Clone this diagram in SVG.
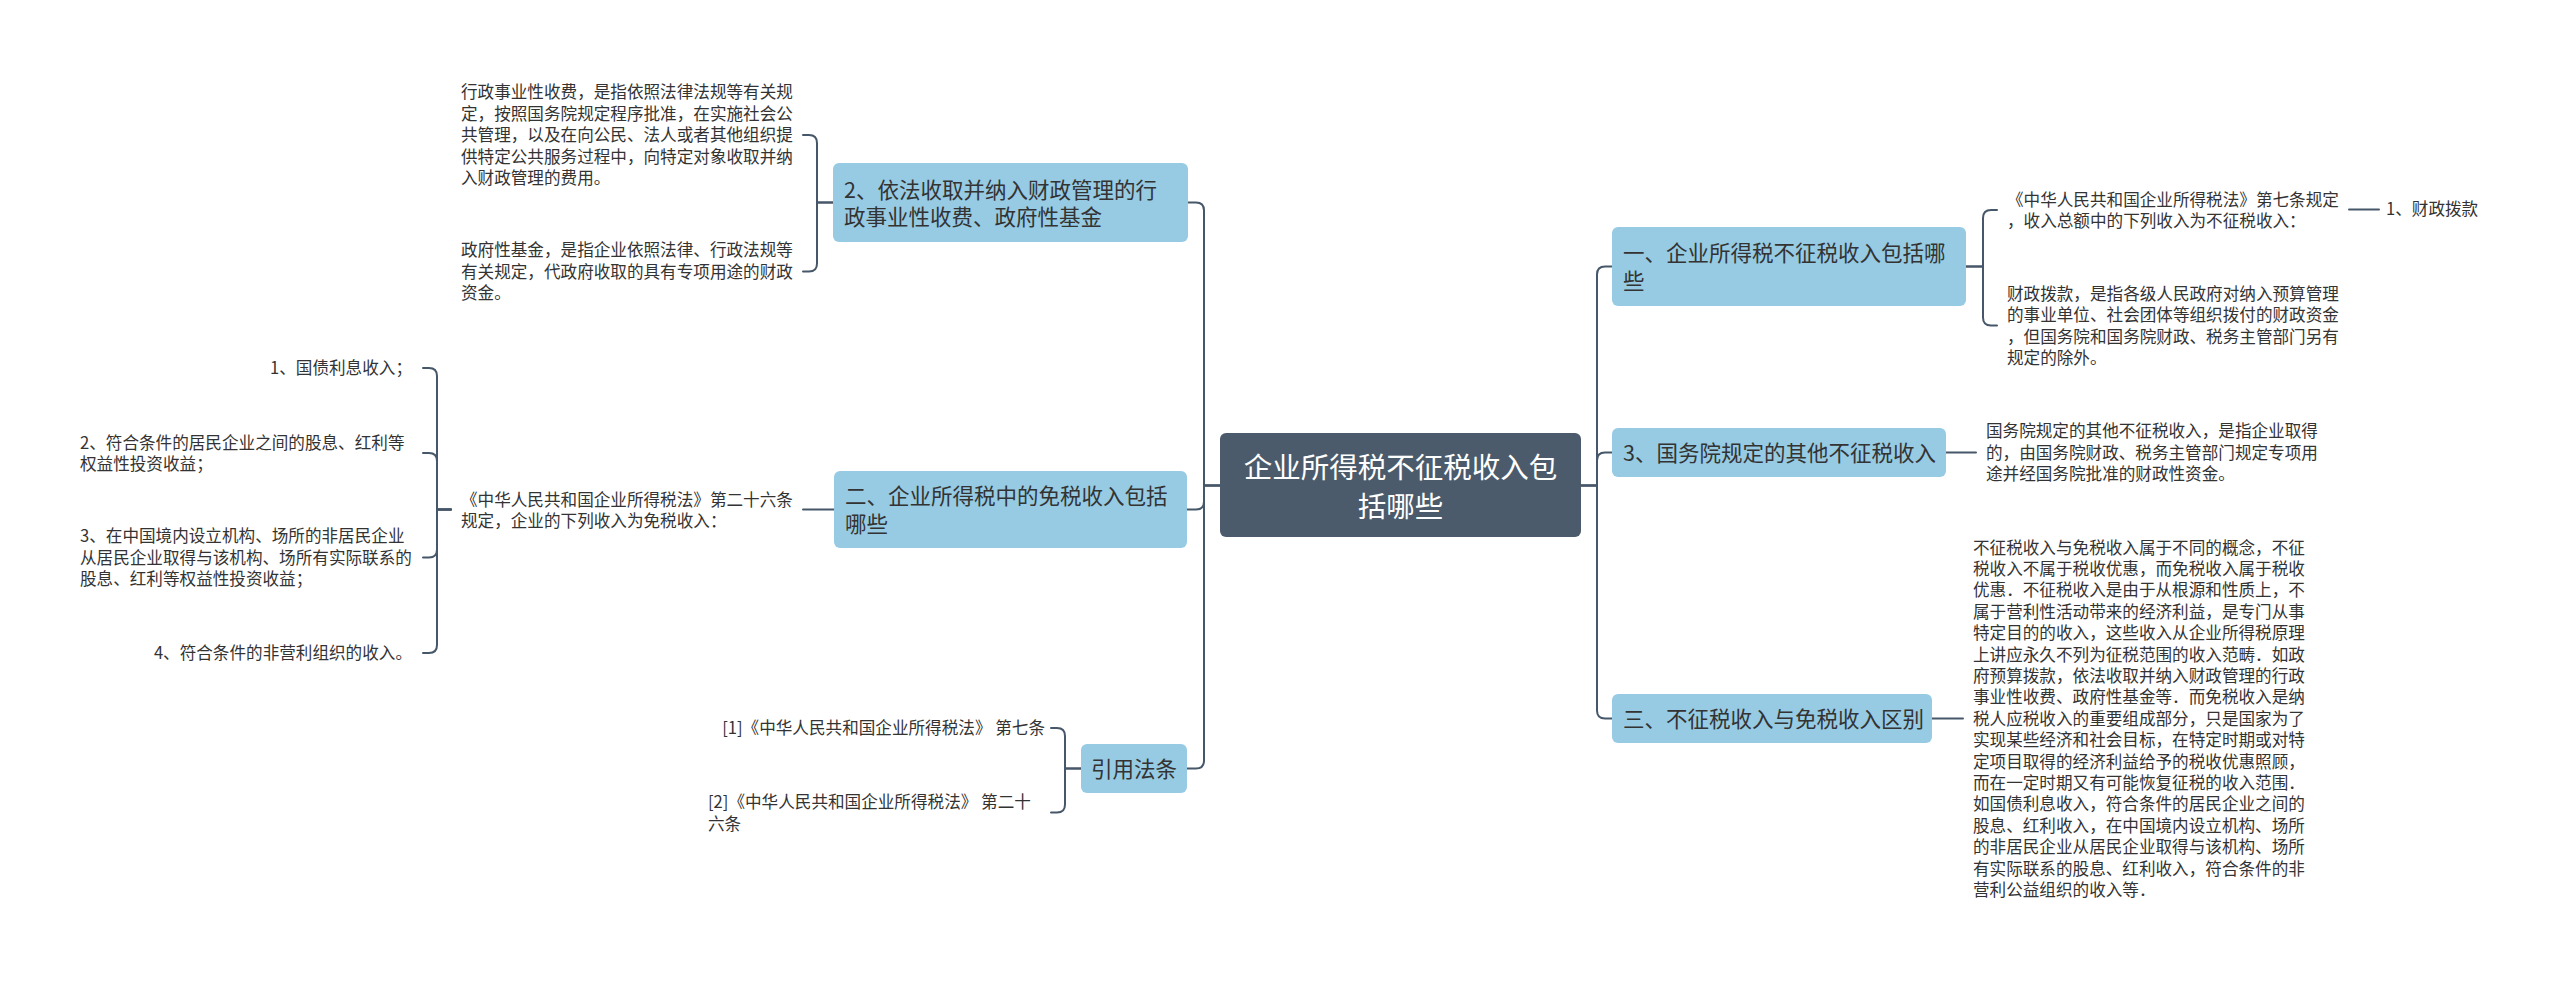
<svg xmlns="http://www.w3.org/2000/svg" width="2560" height="981" viewBox="0 0 2560 981">
<style>
.bg{fill:#ffffff}
.root{fill:#4b5b6b}
.main{fill:#96cbe3}
.rt{font-family:"Noto Sans CJK SC","Noto Sans",sans-serif;font-size:28.5px;fill:#ffffff;text-anchor:middle}
.mt{font-family:"Noto Sans CJK SC","Noto Sans",sans-serif;font-size:21.5px;fill:#333333}
.lt{font-family:"Noto Sans CJK SC","Noto Sans",sans-serif;font-size:16.6px;fill:#333333}
.end{text-anchor:end}
.ln{fill:none;stroke:#47576a;stroke-width:2;stroke-linecap:round;stroke-linejoin:round}
</style>
<rect class="bg" x="0" y="0" width="2560" height="981"/>
<g id="connectors">
<path class="ln" d="M1220 485.5 H1204 V210.5 Q1204 202.5 1196 202.5 H1187"/>
<path class="ln" d="M1220 485.5 H1204 V501.5 Q1204 509.5 1196 509.5 H1187"/>
<path class="ln" d="M1220 485.5 H1204 V760.5 Q1204 768.5 1196 768.5 H1187"/>
<path class="ln" d="M1581 485.5 H1597 V274.5 Q1597 266.5 1605 266.5 H1612"/>
<path class="ln" d="M1581 485.5 H1597 V460.5 Q1597 452.5 1605 452.5 H1612"/>
<path class="ln" d="M1581 485.5 H1597 V710.5 Q1597 718.5 1605 718.5 H1612"/>
<path class="ln" d="M833 202.5 H817 V143 Q817 135 809 135 H803"/>
<path class="ln" d="M833 202.5 H817 V263.5 Q817 271.5 809 271.5 H803"/>
<path class="ln" d="M834 509.5 H803"/>
<path class="ln" d="M451 509.5 H437 V376 Q437 368 429 368 H423"/>
<path class="ln" d="M451 509.5 H437 V461 Q437 453 429 453 H423"/>
<path class="ln" d="M451 509.5 H437 V549.5 Q437 557.5 429 557.5 H423"/>
<path class="ln" d="M451 509.5 H437 V645 Q437 653 429 653 H423"/>
<path class="ln" d="M1081 768.5 H1065 V736 Q1065 728 1057 728 H1051"/>
<path class="ln" d="M1081 768.5 H1065 V804.5 Q1065 812.5 1057 812.5 H1051"/>
<path class="ln" d="M1966 266.5 H1983 V218 Q1983 210 1991 210 H1997"/>
<path class="ln" d="M1966 266.5 H1983 V317.5 Q1983 325.5 1991 325.5 H1997"/>
<path class="ln" d="M2349 209.5 H2379"/>
<path class="ln" d="M1946 452.5 H1976"/>
<path class="ln" d="M1932 718.5 H1963"/>
</g>
<g id="root">
<rect class="root" x="1220" y="433" width="361" height="104" rx="6"/>
<text class="rt" x="1400.5" y="477.5">企业所得税不征税收入包</text>
<text class="rt" x="1400.5" y="516.5">括哪些</text>
</g>
<g id="n-a">
<rect class="main" x="833" y="163" width="355" height="79" rx="6"/>
<text class="mt" x="844" y="197.7">2、依法收取并纳入财政管理的行</text>
<text class="mt" x="844" y="225.2">政事业性收费、政府性基金</text>
</g>
<g id="n-a1">
<text class="lt" x="461" y="98.3">行政事业性收费，是指依照法律法规等有关规</text>
<text class="lt" x="461" y="119.8">定，按照国务院规定程序批准，在实施社会公</text>
<text class="lt" x="461" y="141.3">共管理，以及在向公民、法人或者其他组织提</text>
<text class="lt" x="461" y="162.8">供特定公共服务过程中，向特定对象收取并纳</text>
<text class="lt" x="461" y="184.3">入财政管理的费用。</text>
</g>
<g id="n-a2">
<text class="lt" x="461" y="256.3">政府性基金，是指企业依照法律、行政法规等</text>
<text class="lt" x="461" y="277.8">有关规定，代政府收取的具有专项用途的财政</text>
<text class="lt" x="461" y="299.3">资金。</text>
</g>
<g id="n-b">
<rect class="main" x="834" y="471" width="353" height="77" rx="6"/>
<text class="mt" x="845" y="503.7">二、企业所得税中的免税收入包括</text>
<text class="mt" x="845" y="531.7">哪些</text>
</g>
<g id="n-b0">
<text class="lt" x="461" y="505.8">《中华人民共和国企业所得税法》第二十六条</text>
<text class="lt" x="461" y="527.3">规定，企业的下列收入为免税收入：</text>
</g>
<g id="n-b1">
<text class="lt end" x="412" y="374.3">1、国债利息收入；</text>
</g>
<g id="n-b2">
<text class="lt" x="80" y="448.5">2、符合条件的居民企业之间的股息、红利等</text>
<text class="lt" x="80" y="470">权益性投资收益；</text>
</g>
<g id="n-b3">
<text class="lt" x="80" y="542.3">3、在中国境内设立机构、场所的非居民企业</text>
<text class="lt" x="80" y="563.8">从居民企业取得与该机构、场所有实际联系的</text>
<text class="lt" x="80" y="585.3">股息、红利等权益性投资收益；</text>
</g>
<g id="n-b4">
<text class="lt end" x="412" y="659.3">4、符合条件的非营利组织的收入。</text>
</g>
<g id="n-c">
<rect class="main" x="1081" y="744" width="106" height="49" rx="6"/>
<text class="mt" x="1134" y="776.7" text-anchor="middle">引用法条</text>
</g>
<g id="n-c1">
<text class="lt end" x="1045" y="734.3">[1]《中华人民共和国企业所得税法》 第七条</text>
</g>
<g id="n-c2">
<text class="lt" x="708" y="808">[2]《中华人民共和国企业所得税法》 第二十</text>
<text class="lt" x="708" y="829.5">六条</text>
</g>
<g id="n-d">
<rect class="main" x="1612" y="227" width="354" height="79" rx="6"/>
<text class="mt" x="1623" y="260.7">一、企业所得税不征税收入包括哪</text>
<text class="mt" x="1623" y="288.7">些</text>
</g>
<g id="n-d1">
<text class="lt" x="2007" y="205.5">《中华人民共和国企业所得税法》第七条规定</text>
<text class="lt" x="2007" y="227">，收入总额中的下列收入为不征税收入：</text>
</g>
<g id="n-d11">
<text class="lt" x="2386" y="215.3">1、财政拨款</text>
</g>
<g id="n-d2">
<text class="lt" x="2007" y="299.5">财政拨款，是指各级人民政府对纳入预算管理</text>
<text class="lt" x="2007" y="321">的事业单位、社会团体等组织拨付的财政资金</text>
<text class="lt" x="2007" y="342.5">，但国务院和国务院财政、税务主管部门另有</text>
<text class="lt" x="2007" y="364">规定的除外。</text>
</g>
<g id="n-e">
<rect class="main" x="1612" y="428" width="334" height="49" rx="6"/>
<text class="mt" x="1623" y="460.7">3、国务院规定的其他不征税收入</text>
</g>
<g id="n-e1">
<text class="lt" x="1986" y="437.3">国务院规定的其他不征税收入，是指企业取得</text>
<text class="lt" x="1986" y="458.8">的，由国务院财政、税务主管部门规定专项用</text>
<text class="lt" x="1986" y="480.3">途并经国务院批准的财政性资金。</text>
</g>
<g id="n-f">
<rect class="main" x="1612" y="694" width="320" height="49" rx="6"/>
<text class="mt" x="1623" y="726.7">三、不征税收入与免税收入区别</text>
</g>
<g id="n-f1">
<text class="lt" x="1973" y="553.6">不征税收入与免税收入属于不同的概念，不征</text>
<text class="lt" x="1973" y="575">税收入不属于税收优惠，而免税收入属于税收</text>
<text class="lt" x="1973" y="596.4">优惠．不征税收入是由于从根源和性质上，不</text>
<text class="lt" x="1973" y="617.8">属于营利性活动带来的经济利益，是专门从事</text>
<text class="lt" x="1973" y="639.2">特定目的的收入，这些收入从企业所得税原理</text>
<text class="lt" x="1973" y="660.6">上讲应永久不列为征税范围的收入范畴．如政</text>
<text class="lt" x="1973" y="682">府预算拨款，依法收取并纳入财政管理的行政</text>
<text class="lt" x="1973" y="703.4">事业性收费、政府性基金等．而免税收入是纳</text>
<text class="lt" x="1973" y="724.8">税人应税收入的重要组成部分，只是国家为了</text>
<text class="lt" x="1973" y="746.2">实现某些经济和社会目标，在特定时期或对特</text>
<text class="lt" x="1973" y="767.6">定项目取得的经济利益给予的税收优惠照顾，</text>
<text class="lt" x="1973" y="789">而在一定时期又有可能恢复征税的收入范围．</text>
<text class="lt" x="1973" y="810.4">如国债利息收入，符合条件的居民企业之间的</text>
<text class="lt" x="1973" y="831.8">股息、红利收入，在中国境内设立机构、场所</text>
<text class="lt" x="1973" y="853.2">的非居民企业从居民企业取得与该机构、场所</text>
<text class="lt" x="1973" y="874.6">有实际联系的股息、红利收入，符合条件的非</text>
<text class="lt" x="1973" y="896">营利公益组织的收入等．</text>
</g>
</svg>
